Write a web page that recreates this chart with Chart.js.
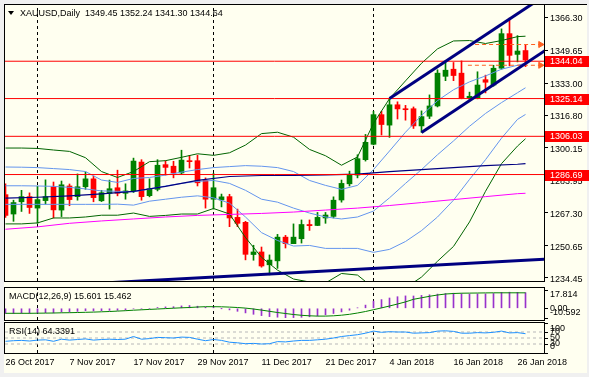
<!DOCTYPE html>
<html>
<head>
<meta charset="utf-8">
<title>XAUUSD Daily</title>
<script src="https://cdn.jsdelivr.net/npm/chart.js@4.4.1/dist/chart.umd.min.js"></script>
<style>
  html, body { margin: 0; padding: 0; }
  body { width: 589px; height: 377px; background: #f0f0f0; position: relative; overflow: hidden;
         font-family: "Liberation Sans", Arial, sans-serif; font-size: 9px; color: #000; }
  #frame { position: absolute; left: 4px; top: 4px; width: 583px; height: 369px; box-sizing: border-box;
           background: #fffff0; border-top: 1px solid #000; }
  canvas { position: absolute; left: 0; }
  .lbl { position: absolute; white-space: pre; line-height: 11px; }
  #tri { position: absolute; left: 8px; top: 11px; width: 0; height: 0;
         border-left: 3.5px solid transparent; border-right: 3.5px solid transparent; border-top: 4px solid #000; }
</style>
</head>
<body>
<div id="frame"></div>
<canvas id="cMain" width="589" height="286" style="top:0"></canvas>
<canvas id="cMacd" width="589" height="38" style="top:284px"></canvas>
<canvas id="cRsi" width="589" height="58" style="top:319px"></canvas>
<div id="tri"></div>
<div class="lbl" id="title" style="left:20px;top:8px"></div>
<div class="lbl" id="macdLbl" style="left:9px;top:291px"></div>
<div class="lbl" id="rsiLbl" style="left:9px;top:326px"></div>
<script>
// daily bars, XAUUSD
const dates = ['26 Oct 2017','27 Oct 2017','30 Oct 2017','31 Oct 2017','1 Nov 2017','2 Nov 2017','3 Nov 2017','6 Nov 2017',
  '7 Nov 2017','8 Nov 2017','9 Nov 2017','10 Nov 2017','13 Nov 2017','14 Nov 2017','15 Nov 2017','16 Nov 2017',
  '17 Nov 2017','20 Nov 2017','21 Nov 2017','22 Nov 2017','23 Nov 2017','24 Nov 2017','27 Nov 2017','28 Nov 2017',
  '29 Nov 2017','30 Nov 2017','1 Dec 2017','4 Dec 2017','5 Dec 2017','6 Dec 2017','7 Dec 2017','8 Dec 2017',
  '11 Dec 2017','12 Dec 2017','13 Dec 2017','14 Dec 2017','15 Dec 2017','18 Dec 2017','19 Dec 2017','20 Dec 2017',
  '21 Dec 2017','22 Dec 2017','26 Dec 2017','27 Dec 2017','28 Dec 2017','29 Dec 2017','2 Jan 2018','3 Jan 2018',
  '4 Jan 2018','5 Jan 2018','8 Jan 2018','9 Jan 2018','10 Jan 2018','11 Jan 2018','12 Jan 2018','15 Jan 2018',
  '16 Jan 2018','17 Jan 2018','18 Jan 2018','19 Jan 2018','22 Jan 2018','23 Jan 2018','24 Jan 2018','25 Jan 2018',
  '26 Jan 2018','29 Jan 2018'];

const opens = [1276.5,1266.7,1272.9,1275.5,1269.7,1273.5,1280.5,1268.7,1280.9,1275.5,
  1280.5,1284.5,1273.4,1277.2,1280.0,1277.2,1278.4,1293.0,1276.0,1279.2,
  1291.7,1290.9,1287.5,1293.7,1293.7,1283.7,1274.2,1273.8,1275.5,1265.0,
  1262.5,1246.2,1247.5,1241.0,1243.0,1255.0,1251.7,1254.2,1261.4,1260.9,
  1264.7,1265.5,1273.8,1282.0,1286.4,1294.2,1302.0,1317.0,1311.7,1322.0,
  1320.0,1320.0,1311.3,1316.2,1321.4,1336.4,1340.0,1338.0,1325.5,1325.5,
  1334.7,1332.0,1340.5,1358.0,1347.5,1349.45];
const highs = [1282.0,1273.7,1278.7,1277.4,1280.8,1284.0,1282.9,1283.4,1281.9,1287.0,
  1288.0,1285.9,1278.7,1283.9,1288.9,1282.0,1295.0,1294.2,1284.5,1294.2,
  1293.7,1293.4,1299.0,1296.4,1296.5,1285.0,1287.3,1276.8,1276.7,1269.2,
  1263.0,1250.9,1250.0,1246.0,1256.4,1255.9,1261.7,1263.7,1263.7,1267.5,
  1267.5,1275.4,1283.9,1288.4,1296.7,1307.0,1318.7,1318.7,1325.3,1323.5,
  1321.7,1320.9,1318.9,1327.0,1339.7,1344.2,1343.4,1344.2,1328.4,1338.7,
  1337.0,1342.0,1360.4,1365.9,1357.0,1352.24];
const lows = [1265.0,1263.0,1268.0,1267.0,1262.0,1271.7,1264.7,1265.4,1270.9,1273.7,
  1279.2,1272.9,1273.0,1269.2,1275.9,1274.2,1277.5,1273.7,1275.4,1278.4,
  1286.4,1285.0,1286.7,1290.0,1280.9,1269.7,1269.2,1270.3,1260.3,1260.3,
  1243.5,1243.3,1239.8,1235.9,1239.2,1249.5,1251.7,1252.0,1258.4,1260.8,
  1262.0,1264.7,1272.7,1280.9,1285.0,1293.5,1301.7,1306.7,1305.5,1314.8,
  1314.2,1310.0,1308.0,1315.0,1320.9,1334.2,1334.2,1325.0,1324.2,1325.0,
  1328.0,1331.4,1340.0,1341.7,1343.7,1341.30];
const closes = [1266.0,1272.5,1275.5,1270.0,1274.0,1275.5,1268.8,1281.5,1274.0,1280.5,
  1284.5,1275.0,1277.5,1279.5,1277.2,1278.4,1293.5,1275.5,1279.5,1291.4,
  1290.3,1287.5,1294.0,1293.2,1282.5,1274.2,1280.0,1275.4,1264.7,1262.0,
  1246.3,1247.5,1240.4,1243.4,1255.0,1251.7,1255.0,1261.4,1260.8,1265.0,
  1266.2,1273.7,1282.2,1286.4,1294.7,1303.0,1317.0,1312.0,1322.0,1319.9,
  1319.5,1311.3,1316.0,1321.4,1338.0,1339.5,1336.8,1325.4,1326.3,1332.0,
  1333.4,1340.5,1358.0,1347.0,1349.2,1344.64];

const priceTicks = [1366.30,1349.65,1333.00,1316.80,1300.15,1283.95,1267.30,1250.65,1234.45];
const levels = [1344.04,1325.14,1306.03,1286.69];
const dateTicks = [0,8,16,24,32,40,48,56,64];

// bollinger bands (20, 2σ green / 1σ blue), sampled every second bar
const bbIdx = [0,2,4,6,8,10,12,14,16,18,20,22,24,26,28,30,32,34,36,38,40,42,44,46,48,50,52,54,56,58,60,62,64,65];
const bbUp2 = [1300.1,1300.1,1299.9,1299.1,1298.4,1295.2,1288.2,1285.2,1288.2,1293.2,
  1293.7,1295.4,1297.2,1296.4,1297.7,1301.6,1307.4,1308.1,1305.6,1299.4,
  1296.2,1291.4,1295.6,1312.6,1325.1,1334.1,1343.0,1350.3,1354.3,1354.5,
  1353.0,1354.5,1356.5,1356.7];
const bbUp1 = [1290.5,1290.4,1290.2,1289.7,1289.2,1288.2,1283.9,1282.7,1284.7,1285.2,
  1286.4,1287.9,1289.2,1290.2,1290.7,1291.2,1290.9,1290.2,1288.2,1283.7,
  1281.2,1279.2,1281.2,1289.2,1298.6,1308.1,1316.6,1324.1,1329.6,1333.6,
  1336.6,1340.0,1342.0,1343.0];
const bbMid = [1281.0,1281.0,1280.9,1280.7,1280.2,1279.4,1278.4,1278.2,1277.9,1279.4,
  1280.9,1282.2,1283.2,1283.7,1282.2,1278.7,1274.2,1272.7,1269.7,1267.2,
  1265.2,1264.2,1265.2,1268.2,1274.9,1282.2,1289.2,1296.7,1303.7,1311.1,
  1317.6,1323.1,1328.1,1330.6];
const bbLo1 = [1271.6,1271.6,1271.6,1271.6,1271.6,1271.6,1271.6,1271.7,1271.2,1273.2,
  1274.2,1275.2,1275.9,1274.9,1272.2,1265.2,1257.3,1253.3,1250.5,1250.8,
  1249.3,1249.3,1249.3,1247.3,1248.8,1252.8,1258.3,1265.2,1273.7,1284.2,
  1294.2,1305.1,1314.6,1317.1];
const bbLo2 = [1261.7,1261.7,1262.2,1264.7,1264.7,1265.2,1266.1,1266.1,1267.2,1265.5,
  1266.0,1266.7,1266.7,1269.5,1266.7,1254.8,1244.8,1238.3,1233.8,1232.3,
  1231.8,1236.6,1235.8,1229.3,1226.3,1229.3,1234.8,1242.8,1250.3,1262.7,
  1278.2,1292.2,1301.1,1304.8];

// moving averages, sampled every fourth bar
const maIdx = [0,4,8,12,16,20,24,28,32,36,40,44,48,52,56,60,64,65];
const maNavy = [1274.7,1275.2,1275.9,1276.9,1278.2,1280.7,1283.7,1285.7,1286.2,1286.3,1286.5,1286.9,1288.2,1289.2,1290.2,1291.2,1291.9,1292.2];
const maPink = [1259.0,1260.2,1262.0,1263.2,1264.2,1265.2,1266.0,1266.5,1267.0,1267.7,1268.7,1269.7,1271.0,1272.5,1274.0,1275.5,1277.0,1277.2];

// drawn objects: [bar, price] pairs
const trendLines = [[[48,1325.2],[68,1378.8]], [[52,1308.0],[68,1350.9]], [[10,1231.3],[68,1244.0]]];
const targets = [[[58.7,1352.5],[66.875,1352.5]], [[57.8,1342.0],[66.875,1342.0]]];

const macd = [-5.2,-5.3,-5.0,-5.0,-4.7,-4.4,-4.6,-3.8,-3.7,-3.1,
  -2.4,-2.6,-2.4,-2.1,-2.0,-1.8,-0.5,-0.8,-0.4,0.8,
  1.4,1.6,2.4,2.8,2.1,1.0,0.9,-0.1,-1.6,-3.0,
  -4.6,-6.0,-7.3,-8.3,-8.9,-9.4,-9.3,-9.0,-8.5,-7.6,
  -6.5,-5.2,-3.6,-1.9,0.4,3.2,7.2,8.7,10.3,11.6,
  12.4,12.3,12.9,13.5,14.2,14.8,15.1,14.6,14.3,14.4,
  14.4,14.8,16.0,16.1,16.0,15.601];
const signal = [-5.0,-5.0,-5.0,-5.0,-4.9,-4.8,-4.7,-4.5,-4.4,-4.2,
  -4.0,-3.8,-3.5,-3.2,-2.8,-2.4,-1.9,-1.5,-1.1,-0.7,
  -0.3,0.1,0.5,0.8,1.3,1.6,1.6,1.5,1.2,0.8,
  0.2,-0.7,-1.8,-3.0,-4.2,-5.2,-6.2,-7.0,-7.5,-7.8,
  -7.8,-7.5,-6.9,-6.0,-4.7,-3.2,-1.4,0.4,2.3,4.3,
  6.4,9.0,10.5,12.0,13.3,14.3,14.8,15.1,15.2,15.3,
  15.4,15.5,15.5,15.5,15.5,15.462];
const macdTicks = [17.814, 0, -10.592];

const rsi = [39,41,42,40,43,44,39,46,43,45,
  47,43,45,46,45,46,55,46,48,52,
  51,50,53,52,46,41,45,42,36,34,
  31,32,30,31,38,37,40,42,42,44,
  46,50,55,58,61,66,73,69,71,70,
  70,66,67,68,73,74,72,66,66,68,
  67,69,73,67,68,64.3391];
const rsiTicks = [100, 70, 50, 30, 0];
const rsiLevels = [70, 50, 30];

const X_MIN = -0.0625, X_MAX = 67.3125;

Chart.defaults.font.family = '"Liberation Sans", Arial, sans-serif';
Chart.defaults.font.size = 9;
Chart.defaults.color = '#000';
Chart.defaults.animation = false;
Chart.defaults.responsive = false;
Chart.defaults.devicePixelRatio = 1;
Chart.defaults.events = [];
Chart.defaults.plugins.legend.display = false;
Chart.defaults.plugins.tooltip.enabled = false;
Chart.defaults.elements.point.radius = 0;
Chart.defaults.elements.line.tension = 0;

const idx = dates.map((d, i) => i);
const month = d => d.split(' ')[1];
const sepIdx = idx.filter(i => i > 0 && month(dates[i]) !== month(dates[i - 1]));
const candleCol = idx.map(i => closes[i] >= opens[i] ? '#008000' : '#ff0000');

const pts = (xs, ys) => xs.map((x, k) => ({x, y: ys[k]}));
const line = (data, color, width, more) => Object.assign(
  {type: 'line', data, borderColor: color, borderWidth: width, pointRadius: 0, clip: 0, order: 2}, more || {});
const seps = (lo, hi) => sepIdx.map(i => line([{x: i, y: lo}, {x: i, y: hi}], '#000', 1, {borderDash: [3, 3], order: 9}));
const xHidden = () => ({type: 'linear', min: X_MIN, max: X_MAX, offset: false, display: false});
const yAxis = (min, max, ticks) => ({
  position: 'right', min, max,
  afterFit: s => { s.width = 45; },
  afterBuildTicks: s => { s.ticks = ticks.map(v => ({value: v})); },
  ticks: {display: false},
  grid: {drawOnChartArea: false, tickLength: 4, color: '#000'},
  border: {display: false}
});

// pane frame, MT4-style axis labels and level price boxes
const paneDeco = {
  id: 'paneDeco',
  afterDraw(chart, args, o) {
    const {ctx, chartArea: a} = chart, s = chart.scales.y;
    ctx.save();
    ctx.strokeStyle = '#000';
    ctx.lineWidth = 1;
    ctx.strokeRect(a.left - 0.5, a.top - 0.5, a.right - a.left + 1, a.bottom - a.top + 1);
    ctx.font = '9px "Liberation Sans", Arial, sans-serif';
    ctx.textBaseline = 'middle';
    ctx.fillStyle = '#000';
    s.ticks.forEach(t => {
      let y = s.getPixelForValue(t.value) + (o.shift || 0);
      if (o.clamp) y = Math.max(a.top + o.clamp, Math.min(a.bottom - o.clamp, y));
      ctx.fillText(o.fmt(t.value), a.right + 6, y);
    });
    (o.levels || []).forEach(v => {
      const y = Math.round(s.getPixelForValue(v));
      ctx.fillStyle = '#ff0000';
      ctx.fillRect(a.right + 1, y - 5, 44, 11);
      ctx.fillStyle = '#ffffff';
      ctx.fillText(v.toFixed(2), a.right + 6, y + 0.5);
    });
    ctx.restore();
  }
};

const PMIN = 1232.8, PMAX = 1372.5;
new Chart(document.getElementById('cMain'), {
  type: 'bar',
  data: {
    datasets: [
      ...seps(PMIN, PMAX),
      {type: 'bar', data: idx.map(i => ({x: i, y: [lows[i], highs[i]]})), backgroundColor: candleCol,
        barThickness: 1, grouped: false, order: 8, clip: 0},
      {type: 'bar', data: idx.map(i => ({x: i, y: [opens[i], closes[i]]})), backgroundColor: candleCol,
        barThickness: 5, minBarLength: 1, grouped: false, order: 7, clip: 0},
      line(pts(maIdx, maPink), '#ff00ff', 1),
      line(pts(maIdx, maNavy), '#000080', 1.2),
      line(pts(bbIdx, bbUp2), '#006400', 1),
      line(pts(bbIdx, bbLo2), '#006400', 1),
      line(pts(bbIdx, bbUp1), '#6495ed', 1),
      line(pts(bbIdx, bbMid), '#6495ed', 1),
      line(pts(bbIdx, bbLo1), '#6495ed', 1),
      ...levels.map(v => line([{x: X_MIN, y: v}, {x: X_MAX, y: v}], '#ff0000', 1, {order: 1})),
      ...trendLines.map(t => line(t.map(p => ({x: p[0], y: p[1]})), '#000080', 3, {order: 0})),
      ...targets.map(t => line(t.map(p => ({x: p[0], y: p[1]})), '#ff6020', 1, {
        order: 0, borderDash: [4, 3], pointRadius: [0, 3.5], pointStyle: 'triangle', pointRotation: 90,
        pointBackgroundColor: '#ff6020', pointBorderColor: '#ff6020', pointBorderWidth: 1}))
    ]
  },
  options: {
    layout: {padding: {left: 5, top: 5, right: 0, bottom: 1}},
    scales: {x: xHidden(), y: yAxis(PMIN, PMAX, priceTicks)},
    plugins: {paneDeco: {fmt: v => v.toFixed(2), shift: 1.5, levels}}
  },
  plugins: [paneDeco]
});

const MMIN = -11.7, MMAX = 20.3;
new Chart(document.getElementById('cMacd'), {
  type: 'bar',
  data: {
    datasets: [
      ...seps(MMIN, MMAX),
      {type: 'bar', data: idx.map(i => ({x: i, y: macd[i]})), backgroundColor: '#9932cc',
        barThickness: 1, grouped: false, order: 5, clip: 0},
      line(idx.map(i => ({x: i, y: signal[i]})), '#008000', 1)
    ]
  },
  options: {
    layout: {padding: {left: 5, top: 4, right: 0, bottom: 2}},
    scales: {x: xHidden(), y: yAxis(MMIN, MMAX, macdTicks)},
    plugins: {paneDeco: {fmt: v => v === 0 ? '0.00' : v.toFixed(3), clamp: 7}}
  },
  plugins: [paneDeco]
});

new Chart(document.getElementById('cRsi'), {
  type: 'line',
  data: {
    datasets: [
      ...seps(0, 100),
      ...rsiLevels.map(v => line([{x: X_MIN, y: v}, {x: X_MAX, y: v}], '#b8b8b8', 1, {borderDash: [3, 3], order: 5})),
      line(idx.map(i => ({x: i, y: rsi[i]})), '#1e90ff', 1)
    ]
  },
  options: {
    layout: {padding: {left: 5, top: 4, right: 0, bottom: 0}},
    scales: {
      x: {
        type: 'linear', min: X_MIN, max: X_MAX, offset: false, position: 'bottom',
        afterBuildTicks: s => { s.ticks = dateTicks.map(v => ({value: v})); },
        afterFit: s => { s.height = 24; },
        grid: {display: false, drawTicks: false},
        border: {display: false},
        ticks: {autoSkip: false, maxRotation: 0, minRotation: 0, align: 'start', padding: 4,
          callback: v => dates[v]}
      },
      y: yAxis(0, 100, rsiTicks)
    },
    plugins: {paneDeco: {fmt: v => String(v), clamp: 6}}
  },
  plugins: [paneDeco]
});

const last = dates.length - 1;
document.getElementById('title').textContent = 'XAUUSD,Daily  ' +
  [opens[last], highs[last], lows[last], closes[last]].map(v => v.toFixed(2)).join(' ');
document.getElementById('macdLbl').textContent =
  'MACD(12,26,9) ' + macd[last].toFixed(3) + ' ' + signal[last].toFixed(3);
document.getElementById('rsiLbl').textContent = 'RSI(14) ' + rsi[last].toFixed(4);
</script>
</body>
</html>
